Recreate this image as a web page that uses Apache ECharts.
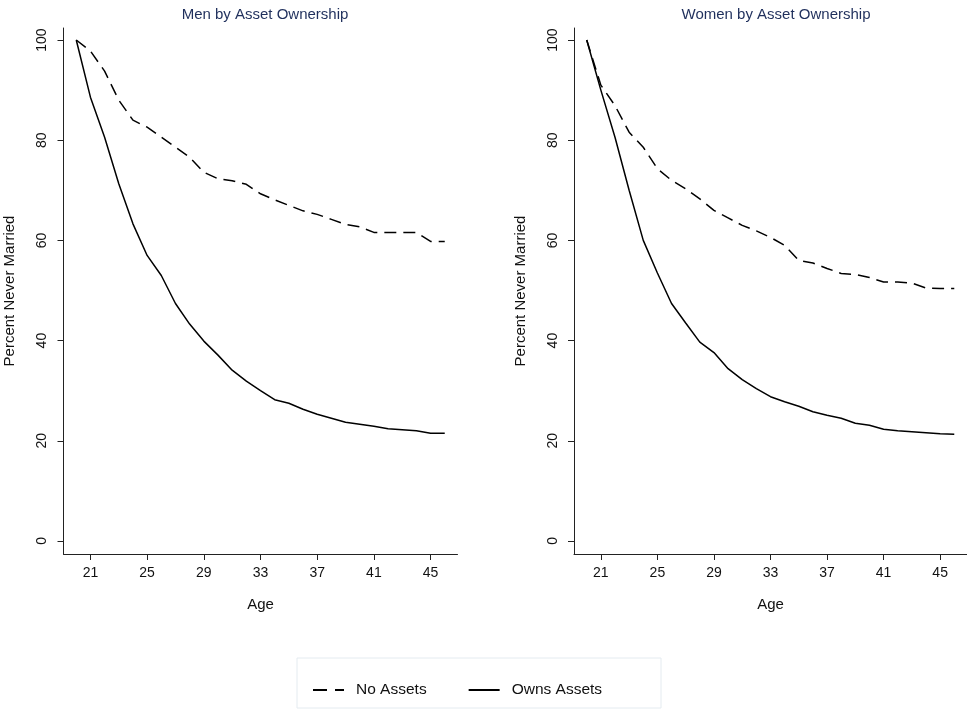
<!DOCTYPE html>
<html>
<head>
<meta charset="utf-8">
<script src="https://cdn.jsdelivr.net/npm/echarts@6/dist/echarts.min.js"></script>
<style>
html,body{margin:0;padding:0;background:#fff;}
#chart{width:967px;height:709px;}
</style>
</head>
<body>
<div id="chart"></div>
<script>
const ages = [20,21,22,23,24,25,26,27,28,29,30,31,32,33,34,35,36,37,38,39,40,41,42,43,44,45,46];
const xTicks = [21,25,29,33,37,41,45];
const yTicks = [0,20,40,60,80,100];
const panelTitles = ['Men by Asset Ownership','Women by Asset Ownership'];
const seriesNames = ['No Assets','Owns Assets'];

const menNoAssets = [100,97.8,93.8,88.0,84.0,82.6,80.6,78.6,76.6,73.6,72.3,71.9,71.2,69.3,68.1,67.0,65.9,65.2,64.2,63.2,62.7,61.6,61.6,61.6,61.6,59.8,59.8];
const menOwns = [100,88.6,80.6,71.3,63.3,57.0,53.0,47.4,43.3,39.9,37.1,34.1,31.9,30.0,28.2,27.5,26.3,25.3,24.5,23.7,23.3,22.9,22.4,22.2,22.0,21.5,21.5];
const womenNoAssets = [100,91.0,86.9,81.6,78.6,74.3,72.0,70.3,68.3,66.0,64.5,63.0,61.9,60.6,59.0,56.0,55.5,54.4,53.4,53.2,52.6,51.7,51.7,51.5,50.5,50.4,50.4];
const womenOwns = [100,90.0,80.6,70.0,60.0,53.5,47.4,43.5,39.7,37.6,34.4,32.2,30.4,28.8,27.8,26.9,25.8,25.1,24.5,23.5,23.1,22.3,22.0,21.8,21.6,21.4,21.3];

const FONT = 'Liberation Sans, Arial, Helvetica, sans-serif';
const pairs = arr => ages.map((a,i)=>[a,arr[i]]);

const grids = [
  {left:63.5, top:28, width:394, height:526},
  {left:574, top:28, width:393, height:526}
];

function xAxisFor(i){
  return {
    gridIndex:i, type:'value', min:19.1, max:46.9,
    name:'Age', nameLocation:'middle', nameGap:43,
    nameTextStyle:{fontSize:15, color:'#111', fontFamily:FONT},
    axisLine:{show:true, onZero:false, lineStyle:{color:'#222', width:1}},
    axisTick:{show:true, length:6, customValues:xTicks, lineStyle:{color:'#222'}},
    axisLabel:{customValues:xTicks, fontSize:14, color:'#111', margin:12, fontFamily:FONT},
    splitLine:{show:false}
  };
}
function yAxisFor(i){
  return {
    gridIndex:i, type:'value', min:-2.6, max:102.4,
    name:'Percent Never Married', nameLocation:'middle', nameGap:46, nameRotate:90,
    nameTextStyle:{fontSize:15, color:'#111', fontFamily:FONT},
    axisLine:{show:true, onZero:false, lineStyle:{color:'#222', width:1}},
    axisTick:{show:true, length:6, customValues:yTicks, lineStyle:{color:'#222'}},
    axisLabel:{customValues:yTicks, fontSize:14, color:'#111', margin:14, rotate:90, fontFamily:FONT},
    splitLine:{show:false}
  };
}

const dash = [12,7];
function line(name, data, i, dashed){
  return {
    name:name, type:'line', xAxisIndex:i, yAxisIndex:i, data:pairs(data),
    symbol:'none', silent:true, animation:false,
    lineStyle:{color:'#000', width:1.5, type: dashed ? dash : 'solid'},
    itemStyle:{color:'#000'}
  };
}

const option = {
  backgroundColor:'#fff',
  animation:false,
  title:[
    {text:panelTitles[0], left:260, top:2, textAlign:'center', textStyle:{fontSize:15, fontWeight:'normal', color:'#1f2f5c', fontFamily:FONT}},
    {text:panelTitles[1], left:771, top:2, textAlign:'center', textStyle:{fontSize:15, fontWeight:'normal', color:'#1f2f5c', fontFamily:FONT}}
  ],
  grid:grids,
  xAxis:[xAxisFor(0), xAxisFor(1)],
  yAxis:[yAxisFor(0), yAxisFor(1)],
  graphic:[{
    type:'rect', shape:{x:297, y:658, width:364, height:50},
    style:{fill:'#fff', stroke:'#e4ebf0', lineWidth:1}, z:-1
  }],
  legend:{
    data:[
      {name:seriesNames[0], icon:'path://M0,0H14V2H0Z M22,0H31V2H22Z'},
      {name:seriesNames[1], icon:'path://M0,0H31V2H0Z'}
    ],
    left:308, top:677, itemWidth:31, itemHeight:2, itemGap:42,
    itemStyle:{color:'#000', borderWidth:0},
    textStyle:{fontSize:15.5, color:'#111', fontFamily:FONT, padding:[0,0,0,7]},
    selectedMode:false
  },
  series:[
    line(seriesNames[0], menNoAssets, 0, true),
    line(seriesNames[1], menOwns, 0, false),
    line(seriesNames[0], womenNoAssets, 1, true),
    line(seriesNames[1], womenOwns, 1, false)
  ]
};
const chart = echarts.init(document.getElementById('chart'), null, {renderer:'canvas'});
chart.setOption(option);
</script>
</body>
</html>
